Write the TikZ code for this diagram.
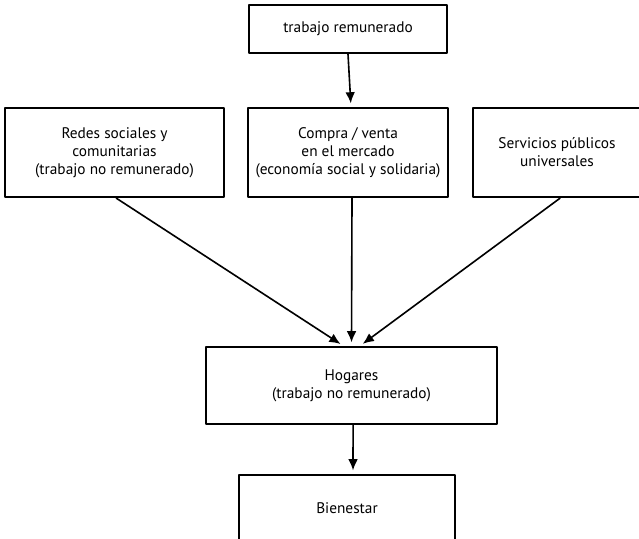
\documentclass[tikz,border=0pt]{standalone}
\usepackage{fontspec}
\setmainfont{PT Sans}
\usetikzlibrary{arrows.meta}
\begin{document}
\begin{tikzpicture}[x=0.025cm, y=-0.025cm, font=\fontsize{10.9}{12.9}\selectfont, line join=round, >={Latex[length=0.28cm,width=0.24cm]}]
	% Estilos
	\tikzset{caja/.style={draw, line width=1.5pt, align=center, inner sep=0pt},
		flecha/.style={->, line width=1.15pt, shorten >=2.5pt}}
	\path[use as bounding box, clip] (0,0) rectangle (639,539);
	
	% Cajas
	\node[caja, minimum width=198*0.025cm, minimum height=48*0.025cm] (trabajo) at (348,29) {trabajo remunerado};
	\node[caja, minimum width=219*0.025cm, minimum height=89*0.025cm] (redes) at (114.5,152.5) {Redes sociales y\\comunitarias\\(trabajo no remunerado)};
	\node[caja, minimum width=200*0.025cm, minimum height=89*0.025cm] (compra) at (348,152.5) {Compra / venta\\en el mercado\\(economía social y solidaria)};
	\node[caja, minimum width=168*0.025cm, minimum height=89*0.025cm] (servicios) at (557,152.5) {Servicios públicos\\universales};
	\node[caja, minimum width=291*0.025cm, minimum height=77*0.025cm] (hogares) at (351.5,385.5) {Hogares\\(trabajo no remunerado)};
	\node[caja, minimum width=216*0.025cm, minimum height=66*0.025cm] (bienestar) at (347,508) {Bienestar};
	
	% Flechas
	\draw[flecha] (trabajo.south) -- ([xshift=0.075cm]compra.north);
	\draw[flecha] ([xshift=0.04cm]redes.south) -- ([xshift=-0.2cm]hogares.north);
	\draw[flecha] ([xshift=0.1cm]compra.south) -- ([xshift=0cm]hogares.north);
	\draw[flecha] ([xshift=0.08cm]servicios.south) -- ([xshift=0.21cm]hogares.north);
	\draw[flecha] ([xshift=0.04cm]hogares.south) -- ([xshift=0.15cm]bienestar.north);
\end{tikzpicture}
\end{document}
